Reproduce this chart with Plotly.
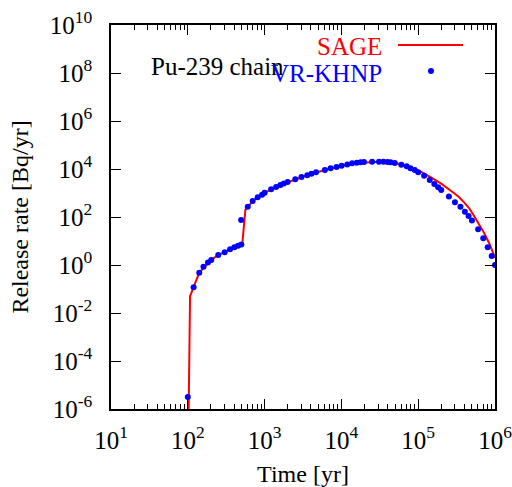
import plotly.graph_objects as go

# SAGE (line)
sage_t = [100, 107, 119, 141, 200, 251, 316, 398, 513, 562, 610, 708, 794, 1000, 1585,
          2512, 3981, 6310, 10000, 15850, 25120, 31620, 39810, 50120, 63100, 79430,
          108100, 141300, 197200, 294400, 338800, 398100, 462400, 537000, 724400, 843300,
          977200, 1000000]
sage_r = [1e-9, 0.05, 0.12, 0.48, 1.62, 2.63, 3.72, 5.5, 7.9, 200, 270, 468, 631, 1023, 2138,
          3715, 6166, 9333, 13490, 17780, 19950, 19950, 19500, 17780, 14790, 11220,
          7762, 4786, 2512, 977, 676, 398, 229, 107, 21, 7.9,
          2.24, 2.0]

# VR-KHNP (points)
khnp_t = [100, 119, 141, 160, 183, 202, 249, 302, 355, 404, 451, 498, 495, 603, 700, 813,
          927, 1000, 1216, 1413, 1607, 1778, 1995, 2512, 3020, 3589, 4074, 4677, 6095,
          7244, 8650, 10070, 11940, 13800, 15850, 17780, 19680, 25120, 30900, 35240,
          39810, 43650, 49550, 60260, 70790, 79430, 90160, 100000, 119400, 141300,
          162200, 182000, 199500, 251200, 300600, 354800, 405500, 452900, 501200,
          602600, 703100, 803500, 905700, 1000000]
khnp_r = [3.2e-6, 0.118, 0.48, 0.85, 1.26, 1.62, 2.6, 3.4, 4.5, 5.5, 6.3, 7.2, 75, 270, 468,
          661, 851, 1023, 1429, 1778, 2138, 2512, 2884, 3715, 4677, 5495, 6310, 7244, 9120,
          10715, 12020, 13800, 15490, 17380, 18200, 19050, 19500, 19950, 19950, 19950,
          19500, 19050, 17780, 15140, 12880, 10720, 9120, 7244, 5248, 3467,
          2371, 1738, 1334, 708, 407, 269, 166, 110, 71,
          31, 12.9, 5.5, 2.37, 1.0]

x_tick_vals = [1e1, 1e2, 1e3, 1e4, 1e5, 1e6]
x_tick_text = ["10<sup>1</sup>", "10<sup>2</sup>", "10<sup>3</sup>", "10<sup>4</sup>",
               "10<sup>5</sup>", "10<sup>6</sup>"]
y_tick_vals = [1e-6, 1e-4, 1e-2, 1e0, 1e2, 1e4, 1e6, 1e8, 1e10]
y_tick_text = ["10<sup>-6</sup>", "10<sup>-4</sup>", "10<sup>-2</sup>", "10<sup>0</sup>",
               "10<sup>2</sup>", "10<sup>4</sup>", "10<sup>6</sup>", "10<sup>8</sup>",
               "10<sup>10</sup>"]
x_minor_vals = [k * 10 ** d for d in range(1, 6) for k in range(2, 10)]

FONT = "Liberation Serif"

fig = go.Figure()
fig.add_trace(go.Scatter(x=sage_t, y=sage_r, mode="lines", name="SAGE",
                         line=dict(color="#ff0000", width=2), showlegend=False))
fig.add_trace(go.Scatter(x=khnp_t, y=khnp_r, mode="markers", name="VR-KHNP",
                         marker=dict(color="#0000ff", size=6), showlegend=False))

L, R, T, B = 111, 17, 25, 78
W, H = 512, 487
pw, ph = W - L - R, H - T - B


def px(x):
    return (x - L) / pw


def py(y):
    return 1 - (y - T) / ph


fig.add_annotation(text="Pu-239 chain", x=px(149), y=py(66), xref="paper", yref="paper",
                   xanchor="left", yanchor="middle", showarrow=False,
                   font=dict(family=FONT, size=25, color="black"))
fig.add_annotation(text="SAGE", x=px(384), y=py(47), xref="paper", yref="paper",
                   xanchor="right", yanchor="middle", showarrow=False,
                   font=dict(family=FONT, size=25, color="#ff0000"))
fig.add_annotation(text="VR-KHNP", x=px(384), y=py(73), xref="paper", yref="paper",
                   xanchor="right", yanchor="middle", showarrow=False,
                   font=dict(family=FONT, size=25, color="#0000ff"))
fig.add_shape(type="line", xref="paper", yref="paper", x0=px(398), x1=px(463),
              y0=py(45), y1=py(45), line=dict(color="#ff0000", width=2))
fig.add_shape(type="circle", xref="paper", yref="paper", x0=px(428), x1=px(434),
              y0=py(74), y1=py(68), fillcolor="#0000ff", line=dict(color="#0000ff", width=0))

axis_common = dict(showline=True, linecolor="black", linewidth=1.5, mirror="allticks",
                   ticks="inside", tickcolor="black", tickwidth=1.2, showgrid=False,
                   zeroline=False, automargin=False, ticklabeloverflow="allow",
                   tickfont=dict(family=FONT, size=25, color="black"))

fig.update_xaxes(type="log", range=[1, 6], tickmode="array", tickvals=x_tick_vals,
                 ticktext=x_tick_text, ticklen=10,
                 minor=dict(ticks="inside", ticklen=5, tickcolor="black", tickwidth=1,
                            tickmode="array", tickvals=x_minor_vals, showgrid=False),
                 title=dict(text="Time [yr]", font=dict(family=FONT, size=24, color="black"),
                            standoff=14),
                 ticklabelstandoff=8, **axis_common)
fig.update_yaxes(type="log", range=[-6, 10], tickmode="array", tickvals=y_tick_vals,
                 ticktext=y_tick_text, ticklen=10,
                 title=dict(text="Release rate [Bq/yr]",
                            font=dict(family=FONT, size=24, color="black"), standoff=14),
                 ticklabelstandoff=12, **axis_common)

fig.update_layout(width=W, height=H, margin=dict(l=L, r=R, t=T, b=B),
                  plot_bgcolor="white", paper_bgcolor="white",
                  font=dict(family=FONT, color="black"))

fig.write_html("out.html")
